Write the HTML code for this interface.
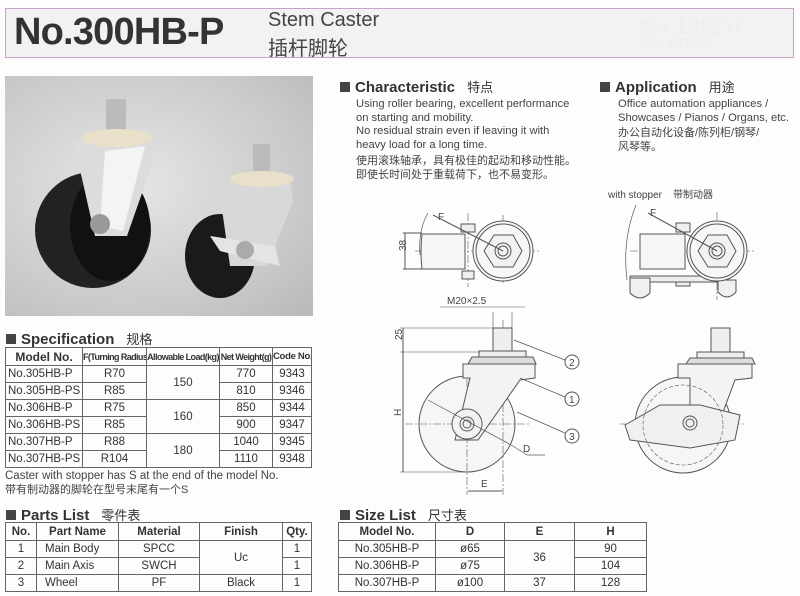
<!DOCTYPE html>
<html><head><meta charset="utf-8"><style>
body{margin:0;width:800px;height:596px;background:#fdfdfd;position:relative;overflow:hidden;font-family:"Liberation Sans","Noto Sans CJK SC",sans-serif;color:#333}
.a{position:absolute;white-space:nowrap}
table{position:absolute;border-collapse:collapse;font-size:11.5px;color:#333;table-layout:fixed}
td{border:1.3px solid #666;text-align:center;padding:0;height:16px;white-space:nowrap;overflow:hidden}
th{border:1.3px solid #666;font-size:11px;height:17px;padding:0;white-space:nowrap;overflow:hidden}
.n{font-size:9px!important;letter-spacing:-0.6px}
.h{font-weight:bold;font-size:15px;color:#333}
.h b{display:inline-block;width:10px;height:10px;background:#444;margin-right:5px}
.h span{font-weight:normal;font-size:13px;margin-left:12px}
.t{font-size:11.2px;line-height:13.5px;color:#444}
</style></head><body>
<div class="a" style="left:5px;top:8px;width:787px;height:48px;border:1.5px solid #caa4c8;background:#f3f2f3"></div>
<div class="a" style="left:14px;top:11px;font-size:38px;font-weight:bold;color:#333;letter-spacing:-0.8px">No.300HB-P</div>
<div class="a" style="left:268px;top:9px;font-size:20px;color:#444">Stem Caster</div>
<div class="a" style="left:268px;top:32px;font-size:20px;color:#444">插杆脚轮</div>
<div class="a" style="left:640px;top:14px;font-size:22px;color:#f0eef0;font-weight:bold">No.100ZH</div>
<div class="a" style="left:640px;top:34px;font-size:18px;color:#f0eef0;font-weight:bold">No.600H</div>

<div class="a" style="left:5px;top:76px;width:308px;height:240px;background:radial-gradient(ellipse at 40% 45%,#e6e6e6,#c8c8c8 70%,#b8b8b8)"></div>
<svg class="a" style="left:5px;top:76px" width="308" height="240">
<ellipse cx="88" cy="154" rx="58" ry="58" fill="#222"/><ellipse cx="105" cy="150" rx="40" ry="55" fill="#111"/>
<path d="M68 63 L142 58 L150 80 L122 160 L90 160 Z" fill="#dcdcdc"/><path d="M100 75 L140 70 L118 155 L95 150Z" fill="#f4f4f4"/>
<rect x="101" y="23" width="20" height="38" fill="#bbb"/><ellipse cx="112" cy="62" rx="35" ry="9" fill="#e8e0c8"/>
<circle cx="95" cy="148" r="10" fill="#999"/>
<ellipse cx="215" cy="180" rx="35" ry="42" fill="#1a1a1a"/>
<path d="M213 105 L285 105 L288 125 L262 190 L225 190 Z" fill="#d8d8d8"/>
<rect x="248" y="68" width="17" height="32" fill="#bbb"/><ellipse cx="257" cy="103" rx="32" ry="8" fill="#e8e0c8"/>
<path d="M205 160 L270 170 L275 190 L215 175Z" fill="#e4e4e4"/><circle cx="240" cy="174" r="9" fill="#aaa"/>
</svg>

<div class="a h" style="left:6px;top:329px"><b></b>Specification<span>规格</span></div>
<table style="left:5px;top:347px;width:307px">
<tr><th style="width:76px;font-size:12px">Model No.</th><th style="width:63px" class="n">F(Turning Radius)</th><th style="width:72px" class="n">Allowable Load(kg)</th><th style="width:52px" class="n">Net Weight(g)</th><th style="font-size:9.5px;letter-spacing:-0.3px">Code No.</th></tr>
<tr><td style="text-align:left;padding-left:2px">No.305HB-P</td><td>R70</td><td rowspan="2">150</td><td>770</td><td>9343</td></tr>
<tr><td style="text-align:left;padding-left:2px">No.305HB-PS</td><td>R85</td><td>810</td><td>9346</td></tr>
<tr><td style="text-align:left;padding-left:2px">No.306HB-P</td><td>R75</td><td rowspan="2">160</td><td>850</td><td>9344</td></tr>
<tr><td style="text-align:left;padding-left:2px">No.306HB-PS</td><td>R85</td><td>900</td><td>9347</td></tr>
<tr><td style="text-align:left;padding-left:2px">No.307HB-P</td><td>R88</td><td rowspan="2">180</td><td>1040</td><td>9345</td></tr>
<tr><td style="text-align:left;padding-left:2px">No.307HB-PS</td><td>R104</td><td>1110</td><td>9348</td></tr>
</table>
<div class="a t" style="left:5px;top:470px;font-size:11.5px">Caster with stopper has S at the end of the model No.</div>
<div class="a t" style="left:5px;top:484px;font-size:11px">带有制动器的脚轮在型号末尾有一个S</div>

<div class="a h" style="left:6px;top:505px"><b></b>Parts List<span>零件表</span></div>
<table style="left:5px;top:522px;width:307px">
<tr><th style="width:30px;font-size:11.5px">No.</th><th style="width:81px;font-size:11.5px">Part Name</th><th style="width:80px;font-size:11.5px">Material</th><th style="width:82px;font-size:11.5px">Finish</th><th style="font-size:11.5px">Qty.</th></tr>
<tr><td>1</td><td style="text-align:left;padding-left:8px">Main Body</td><td>SPCC</td><td rowspan="2">Uc</td><td>1</td></tr>
<tr><td>2</td><td style="text-align:left;padding-left:8px">Main Axis</td><td>SWCH</td><td>1</td></tr>
<tr><td>3</td><td style="text-align:left;padding-left:8px">Wheel</td><td>PF</td><td>Black</td><td>1</td></tr>
</table>

<div class="a h" style="left:340px;top:77px"><b></b>Characteristic<span>特点</span></div>
<div class="a t" style="left:356px;top:98px">Using roller bearing, excellent performance<br>on starting and mobility.<br>No residual strain even if leaving it with<br>heavy load for a long time.</div>
<div class="a t" style="left:356px;top:155px;font-size:11px">使用滚珠轴承，具有极佳的起动和移动性能。<br>即使长时间处于重载荷下，也不易变形。</div>
<div class="a h" style="left:600px;top:77px"><b></b>Application<span>用途</span></div>
<div class="a t" style="left:618px;top:98px">Office automation appliances /<br>Showcases / Pianos / Organs, etc.</div>
<div class="a t" style="left:618px;top:127px;font-size:11px">办公自动化设备/陈列柜/钢琴/<br>风琴等。</div>
<div class="a" style="left:608px;top:186px;font-size:10px;color:#444">with stopper &nbsp;&nbsp;&nbsp;带制动器</div>

<svg class="a" style="left:0;top:0" width="800" height="596" fill="none" stroke="#555" stroke-width="1" font-family="Liberation Sans" font-size="10">
<g>
<line x1="415" y1="251" x2="540" y2="251" stroke-dasharray="8 2 2 2" stroke-width=".6"/>
<line x1="503" y1="215" x2="503" y2="285" stroke-dasharray="8 2 2 2" stroke-width=".6"/>
<line x1="468" y1="213" x2="468" y2="287" stroke-dasharray="8 2 2 2" stroke-width=".6"/>
<path d="M422 234 H465 V269 H422 Q420 252 422 234Z" fill="#f6f6f6"/>
<rect x="461" y="224" width="14" height="8" fill="#eee"/><rect x="462" y="271" width="12" height="8" fill="#eee"/>
<circle cx="503" cy="251" r="30" fill="#f7f7f7"/><circle cx="503" cy="251" r="27"/>
<polygon points="484,251 494,235 513,235 522,251 513,267 494,267" fill="#f2f2f2"/>
<circle cx="503" cy="251" r="8"/><circle cx="503" cy="251" r="5"/>
<line x1="403" y1="233" x2="422" y2="233"/><line x1="403" y1="269" x2="422" y2="269"/><line x1="405" y1="233" x2="405" y2="269"/>
<text x="400" y="257" transform="rotate(-90 400 251)" stroke="none" fill="#444">38</text>
<line x1="433" y1="215" x2="503" y2="251"/><path d="M428 213 Q418 230 420 255" stroke-width=".7"/>
<text x="438" y="220" stroke="none" fill="#444">F</text>
</g>
<g>
<line x1="630" y1="251" x2="755" y2="251" stroke-dasharray="8 2 2 2" stroke-width=".6"/>
<line x1="717" y1="212" x2="717" y2="300" stroke-dasharray="8 2 2 2" stroke-width=".6"/>
<path d="M640 234 H685 V269 H640Z" fill="#f6f6f6"/>
<rect x="676" y="223" width="14" height="9" fill="#eee"/><rect x="676" y="278" width="14" height="8" fill="#eee"/>
<path d="M630 276 H720 L722 282 H630Z" fill="#eee"/>
<path d="M630 278 h20 v15 q-10 10 -20 0Z" fill="#f0f0f0"/><path d="M718 280 h18 v12 q-9 10 -18 0Z" fill="#f0f0f0"/>
<circle cx="717" cy="251" r="30" fill="#f7f7f7"/><circle cx="717" cy="251" r="27"/>
<polygon points="698,251 708,235 727,235 736,251 727,267 708,267" fill="#f2f2f2"/>
<circle cx="717" cy="251" r="8"/><circle cx="717" cy="251" r="5"/>
<line x1="648" y1="213" x2="717" y2="251"/><path d="M636 205 Q622 240 627 280" stroke-width=".7"/>
<text x="650" y="216" stroke="none" fill="#444">F</text>
</g>
<g>
<circle cx="467" cy="424" r="48" fill="#f6f6f6"/>
<line x1="405" y1="424" x2="530" y2="424" stroke-dasharray="8 2 2 2" stroke-width=".6"/>
<line x1="503" y1="320" x2="503" y2="495" stroke-dasharray="8 2 2 2" stroke-width=".6"/>
<line x1="467" y1="365" x2="467" y2="495" stroke-dasharray="8 2 2 2" stroke-width=".6"/>
<rect x="493" y="328" width="19" height="24" fill="#eee"/>
<rect x="479" y="351" width="47" height="6" fill="#eee"/>
<path d="M472 357 H533 L536 364 H468Z" fill="#ddd"/>
<path d="M463 364 H535 V378 L520 380 L478 440 L455 440 L470 378 H463Z" fill="#f3f3f3"/>
<circle cx="467" cy="424" r="15" fill="#f3f3f3"/><circle cx="467" cy="424" r="7"/><circle cx="467" cy="424" r="4"/>
<line x1="403" y1="328" x2="403" y2="472"/><line x1="400" y1="328" x2="493" y2="328" stroke-width=".6"/>
<line x1="400" y1="352" x2="480" y2="352" stroke-width=".6"/><line x1="400" y1="472" x2="467" y2="472" stroke-width=".6"/>
<text x="398" y="344" transform="rotate(-90 398 340)" stroke="none" fill="#444">25</text>
<text x="397" y="420" transform="rotate(-90 397 416)" stroke="none" fill="#444">H</text>
<line x1="493" y1="312" x2="493" y2="328" stroke-width=".6"/><line x1="512" y1="312" x2="512" y2="328" stroke-width=".6"/>
<line x1="440" y1="307" x2="525" y2="307" stroke-width=".6"/>
<text x="447" y="304" stroke="none" fill="#444">M20×2.5</text>
<line x1="468" y1="491" x2="502" y2="491"/>
<text x="481" y="487" stroke="none" fill="#444">E</text>
<line x1="428" y1="400" x2="513" y2="446" stroke-width=".7"/><line x1="513" y1="446" x2="527" y2="455" stroke-width=".7"/><line x1="527" y1="455" x2="545" y2="455" stroke-width=".7"/>
<text x="523" y="452" stroke="none" fill="#444">D</text>
<line x1="514" y1="340" x2="565" y2="360" stroke-width=".7"/><line x1="520" y1="378" x2="565" y2="397" stroke-width=".7"/><line x1="517" y1="412" x2="565" y2="433" stroke-width=".7"/>
<circle cx="572" cy="362" r="7" fill="#fff"/><circle cx="572" cy="399" r="7" fill="#fff"/><circle cx="572" cy="436" r="7" fill="#fff"/>
<text x="569" y="366" stroke="none" fill="#444">2</text><text x="569" y="403" stroke="none" fill="#444">1</text><text x="569" y="440" stroke="none" fill="#444">3</text>
</g>
<g>
<circle cx="683" cy="425" r="48" fill="#f6f6f6"/>
<line x1="620" y1="424" x2="745" y2="424" stroke-dasharray="8 2 2 2" stroke-width=".6"/>
<rect x="711" y="328" width="19" height="24" fill="#eee"/>
<rect x="697" y="352" width="47" height="6" fill="#eee"/>
<path d="M690 358 H752 L755 364 H686Z" fill="#ddd"/>
<path d="M678 364 H752 V378 L735 380 L720 420 L690 420 L690 378 H678Z" fill="#f3f3f3"/>
<path d="M625 425 L660 405 L700 405 L740 415 L735 440 L690 448 L630 440Z" fill="#f0f0f0"/>
<circle cx="690" cy="423" r="7"/><circle cx="690" cy="423" r="4"/>
<circle cx="683" cy="425" r="40" stroke-dasharray="4 2" stroke-width=".6"/>
</g>
</svg>

<div class="a h" style="left:340px;top:505px"><b></b>Size List<span>尺寸表</span></div>
<table style="left:338px;top:522px;width:309px">
<tr><th style="width:96px;font-size:11.5px">Model No.</th><th style="width:68px;font-size:11.5px">D</th><th style="width:69px;font-size:11.5px">E</th><th style="font-size:11.5px">H</th></tr>
<tr><td>No.305HB-P</td><td>ø65</td><td rowspan="2">36</td><td>90</td></tr>
<tr><td>No.306HB-P</td><td>ø75</td><td>104</td></tr>
<tr><td>No.307HB-P</td><td>ø100</td><td>37</td><td>128</td></tr>
</table>
</body></html>
